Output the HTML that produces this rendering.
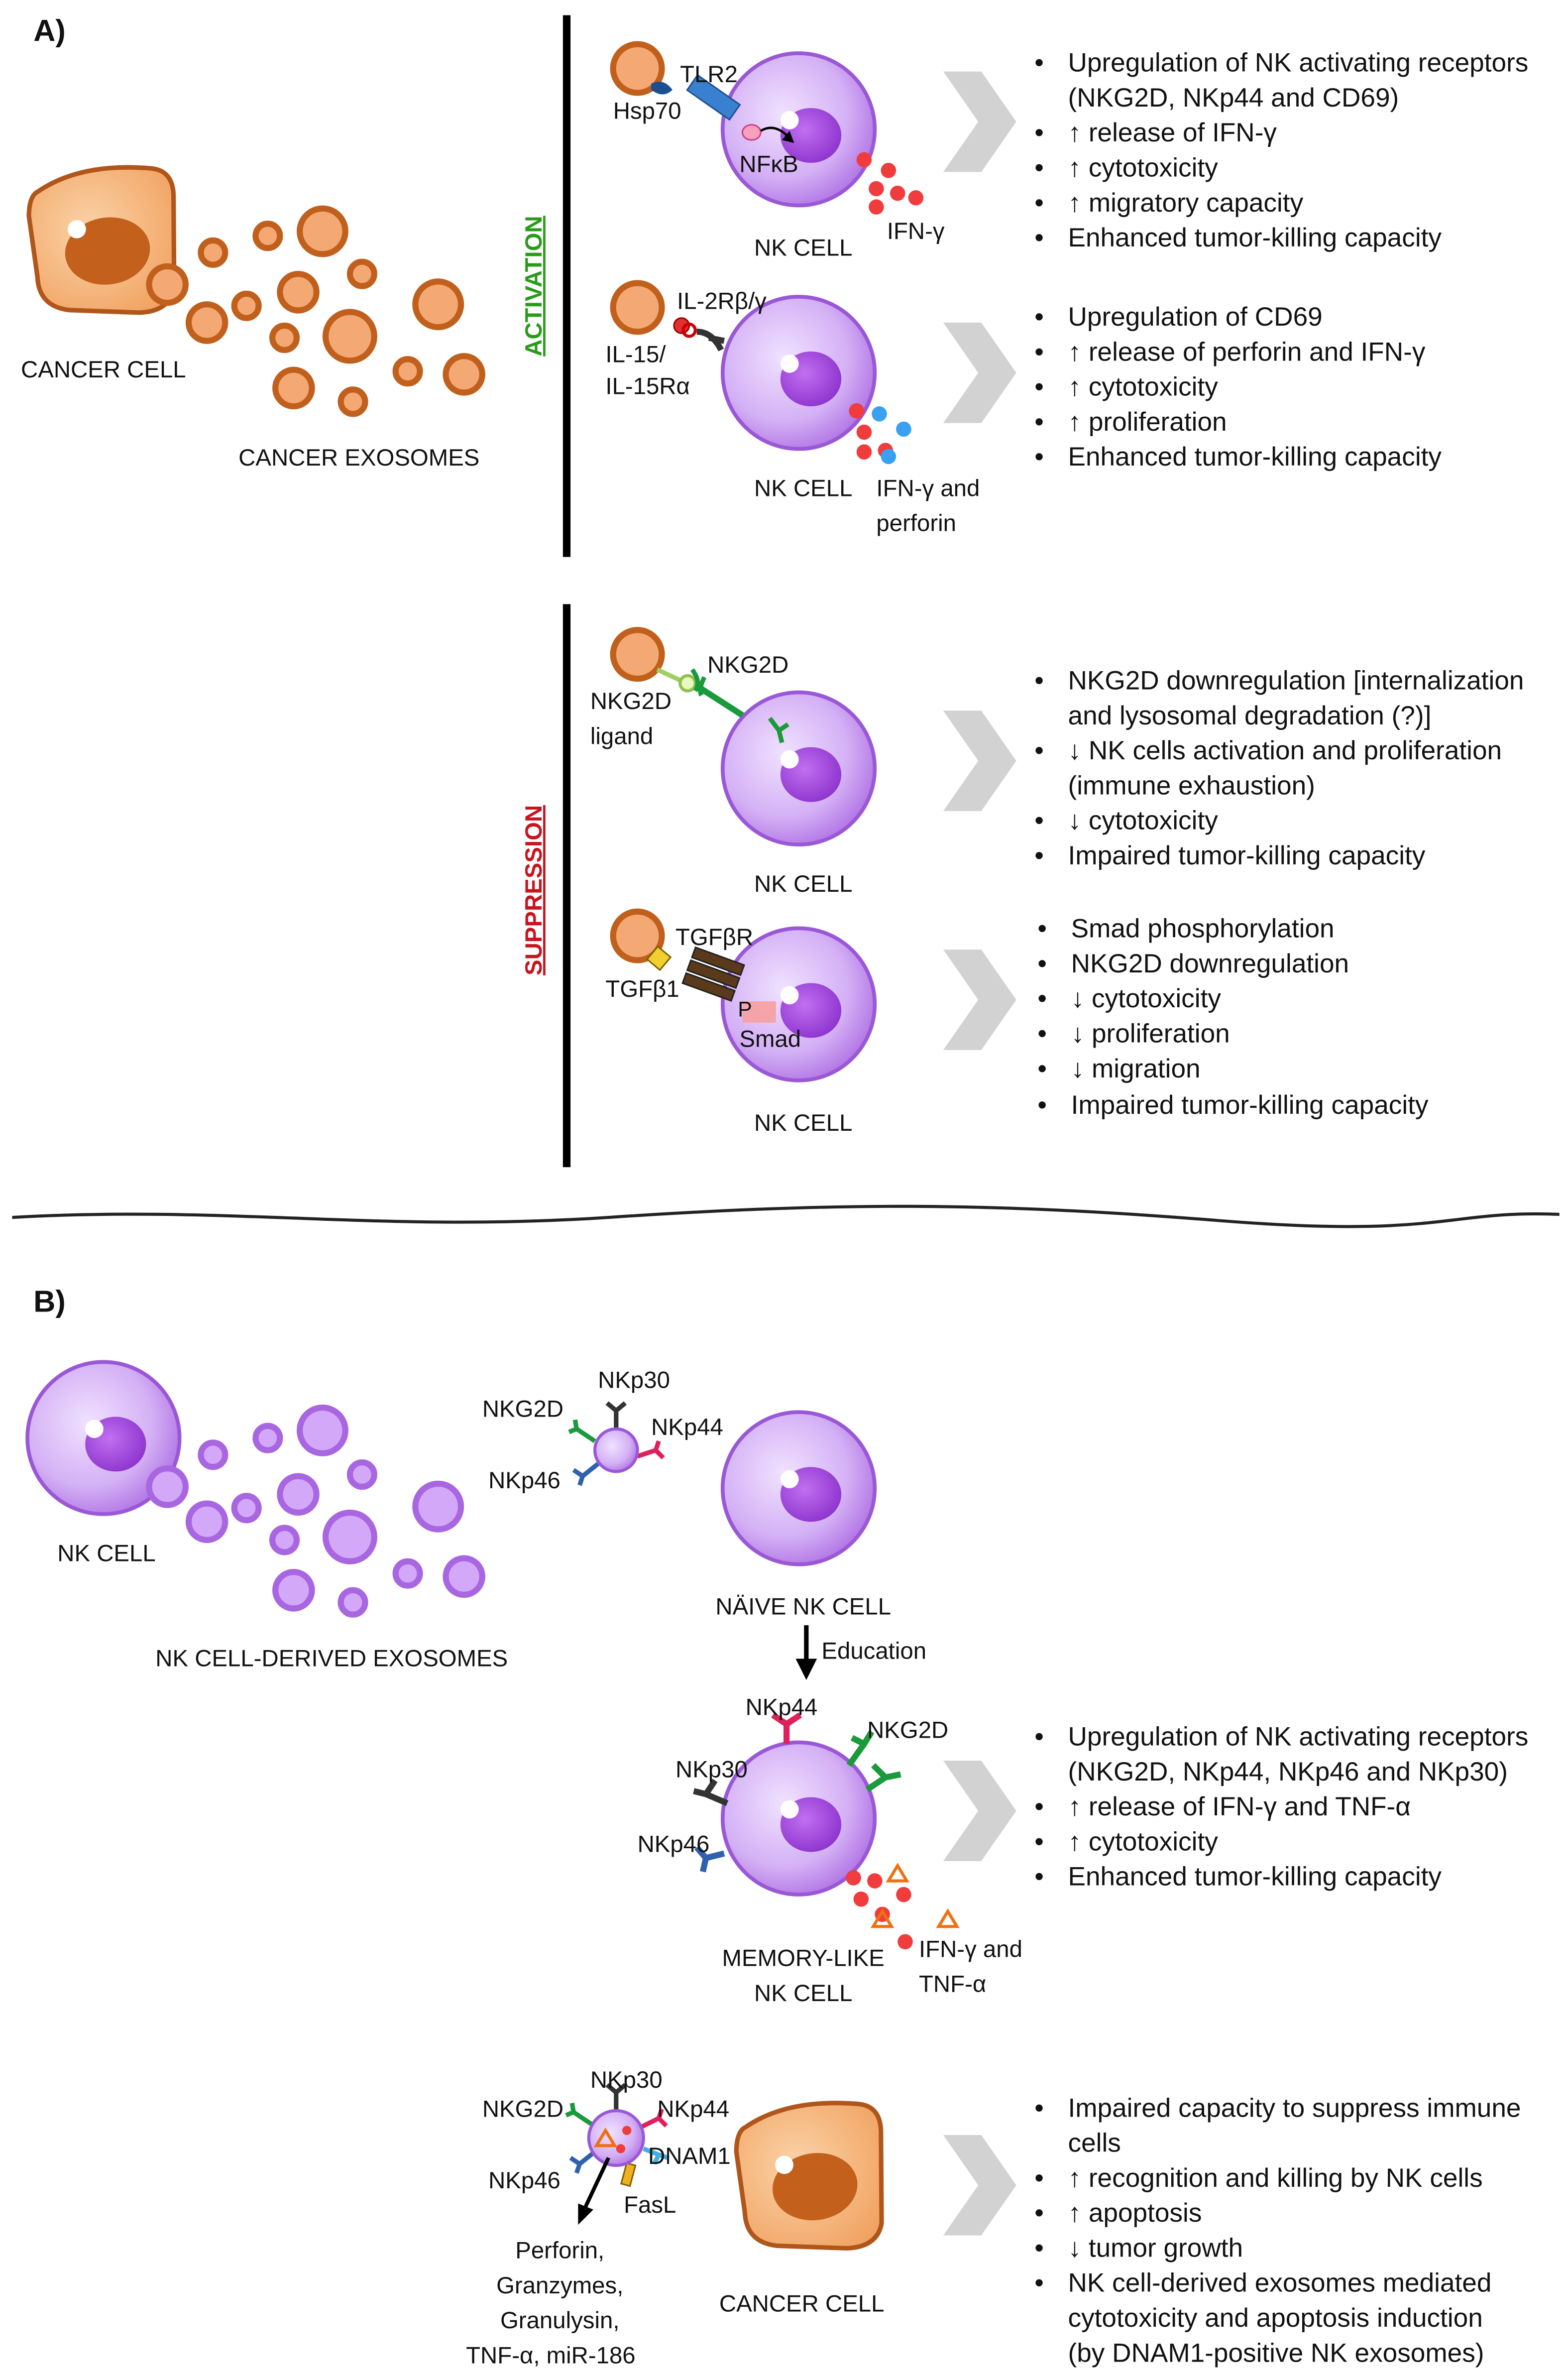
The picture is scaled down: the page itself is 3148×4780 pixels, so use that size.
<!DOCTYPE html>
<html><head><meta charset="utf-8"><style>
html,body{margin:0;padding:0;background:#fff}
svg{display:block}
text{font-family:"Liberation Sans",Calibri,sans-serif;font-size:15.5px;fill:#111}
.b text{font-size:17.4px}
</style></head><body>
<svg width="3148" height="4780" viewBox="0 0 1030 1564" xmlns="http://www.w3.org/2000/svg">
<defs>
<radialGradient id="nk" cx="0.4" cy="0.4" r="0.7"><stop offset="0" stop-color="#f0e2ff"/><stop offset="0.6" stop-color="#d4b0f5"/><stop offset="1" stop-color="#a866e0"/></radialGradient>
<radialGradient id="nuc" cx="0.4" cy="0.4" r="0.7"><stop offset="0" stop-color="#c070f0"/><stop offset="1" stop-color="#8a2fcc"/></radialGradient>
<radialGradient id="cc" cx="0.4" cy="0.4" r="0.8"><stop offset="0" stop-color="#fbd3a8"/><stop offset="1" stop-color="#ef9a55"/></radialGradient>
<g id="nkcell"><circle r="50" fill="url(#nk)" stroke="#9a58d6" stroke-width="2.5"/><ellipse cx="8" cy="4" rx="20" ry="18" fill="url(#nuc)"/><circle cx="-6" cy="-6" r="6" fill="#fff"/></g>
<g id="cancer"><path d="M-40,-40 Q-10,-55 35,-45 Q50,-42 48,-25 L40,35 Q35,50 15,48 L-30,40 Q-50,35 -48,15 L-48,-25 Q-46,-38 -40,-40Z" fill="url(#cc)" stroke="#b0561a" stroke-width="3"/><ellipse cx="0" cy="5" rx="28" ry="22" fill="#c2601c"/><circle cx="-18" cy="-12" r="6" fill="#fff"/></g>
<g id="chev"><polygon points="0,-33 25,-33 48,0 25,33 0,33 23,0" fill="#d2d2d2"/></g>
</defs>

<text x="22" y="27" style="font-weight:bold;font-size:20px">A)</text>
<use href="#cancer" x="70" y="160" transform="rotate(-8 70 160)"/>
<text x="68" y="248" text-anchor="middle">CANCER CELL</text>
<g fill="#f4a873" stroke="#c0601c" stroke-width="4">
<circle cx="110" cy="187" r="12"/><circle cx="140" cy="166" r="8"/><circle cx="176" cy="155" r="8"/><circle cx="212" cy="152" r="15"/><circle cx="238" cy="180" r="8"/><circle cx="196" cy="192" r="12"/><circle cx="162" cy="201" r="8"/><circle cx="136" cy="212" r="12"/><circle cx="187" cy="222" r="8"/><circle cx="230" cy="221" r="16"/><circle cx="288" cy="200" r="15"/><circle cx="268" cy="244" r="8"/><circle cx="305" cy="246" r="12"/><circle cx="193" cy="255" r="12"/><circle cx="232" cy="264" r="8"/>
</g>
<text x="236" y="306" text-anchor="middle">CANCER EXOSOMES</text>

<rect x="370" y="10" width="5" height="356" fill="#000"/>
<rect x="370" y="397" width="5" height="370" fill="#000"/>
<text transform="translate(356,188) rotate(-90)" text-anchor="middle" style="fill:#2a9a1a;font-weight:bold;text-decoration:underline">ACTIVATION</text>
<text transform="translate(356,585) rotate(-90)" text-anchor="middle" style="fill:#c8141e;font-weight:bold;text-decoration:underline">SUPPRESSION</text>

<!-- A1 -->
<use href="#nkcell" x="525" y="85"/>
<circle cx="419" cy="45" r="16" fill="#f4a873" stroke="#c0601c" stroke-width="4"/>
<rect x="452" y="58" width="34" height="12" fill="#3a80d0" stroke="#205090" transform="rotate(35 469 64)"/>
<path d="M428,55 q8,-4 14,4 q-6,6 -14,0z" fill="#1a4f90"/>
<text x="447" y="54">TLR2</text><text x="403" y="78">Hsp70</text>
<ellipse cx="494" cy="87" rx="6" ry="5" fill="#f7a0c0" stroke="#d04080"/>
<path d="M500,86 q10,-6 20,6" fill="none" stroke="#000" stroke-width="1.5"/><polygon points="522,94 514,92 519,86" fill="#000"/>
<text x="486" y="113">NFκB</text>
<g fill="#f03c3c"><circle cx="568" cy="105" r="5"/><circle cx="584" cy="112" r="5"/><circle cx="576" cy="124" r="5"/><circle cx="590" cy="127" r="5"/><circle cx="602" cy="130" r="5"/><circle cx="576" cy="136" r="5"/></g>
<text x="583" y="157">IFN-γ</text><text x="528" y="168" text-anchor="middle">NK CELL</text>
<use href="#chev" x="620" y="80"/>
<g class="b"><text x="680" y="47">•</text><text x="702" y="47">Upregulation of NK activating receptors</text><text x="702" y="70">(NKG2D, NKp44 and CD69)</text>
<text x="680" y="93">•</text><text x="702" y="93">↑ release of IFN-γ</text>
<text x="680" y="116">•</text><text x="702" y="116">↑ cytotoxicity</text>
<text x="680" y="139">•</text><text x="702" y="139">↑ migratory capacity</text>
<text x="680" y="162">•</text><text x="702" y="162">Enhanced tumor-killing capacity</text></g>

<!-- A2 -->
<use href="#nkcell" x="525" y="245"/>
<circle cx="419" cy="202" r="16" fill="#f4a873" stroke="#c0601c" stroke-width="4"/>
<circle cx="448" cy="214" r="5" fill="#e03030" stroke="#900"/><circle cx="453" cy="217" r="4" fill="none" stroke="#c00" stroke-width="2"/>
<path d="M458,218 q10,0 16,12 M466,222 l10,2" fill="none" stroke="#333" stroke-width="4"/>
<text x="445" y="203">IL-2Rβ/γ</text><text x="398" y="238">IL-15/</text><text x="398" y="259">IL-15Rα</text>
<g fill="#f03c3c"><circle cx="563" cy="270" r="5"/><circle cx="568" cy="284" r="5"/><circle cx="582" cy="296" r="5"/><circle cx="568" cy="297" r="5"/></g>
<g fill="#3aa0f0"><circle cx="578" cy="272" r="5"/><circle cx="594" cy="282" r="5"/><circle cx="584" cy="300" r="5"/></g>
<text x="528" y="326" text-anchor="middle">NK CELL</text><text x="576" y="326">IFN-γ and</text><text x="576" y="349">perforin</text>
<use href="#chev" x="620" y="245"/>
<g class="b"><text x="680" y="214">•</text><text x="702" y="214">Upregulation of CD69</text>
<text x="680" y="237">•</text><text x="702" y="237">↑ release of perforin and IFN-γ</text>
<text x="680" y="260">•</text><text x="702" y="260">↑ cytotoxicity</text>
<text x="680" y="283">•</text><text x="702" y="283">↑ proliferation</text>
<text x="680" y="306">•</text><text x="702" y="306">Enhanced tumor-killing capacity</text></g>

<!-- A3 -->
<use href="#nkcell" x="525" y="505"/>
<circle cx="419" cy="430" r="16" fill="#f4a873" stroke="#c0601c" stroke-width="4"/>
<line x1="432" y1="440" x2="447" y2="447" stroke="#a0d060" stroke-width="3"/><circle cx="452" cy="449" r="5" fill="#e8f8c0" stroke="#90c050" stroke-width="2"/>
<path d="M455,440 q6,8 2,14 M463,445 q-4,8 -2,12" fill="none" stroke="#1a9a3a" stroke-width="3"/>
<line x1="460" y1="452" x2="488" y2="470" stroke="#1a9a3a" stroke-width="4"/>
<path d="M506,472 l6,8 l6,-4 M512,480 l2,8" fill="none" stroke="#1a9a3a" stroke-width="3"/>
<text x="465" y="442">NKG2D</text><text x="388" y="466">NKG2D</text><text x="388" y="489">ligand</text>
<text x="528" y="586" text-anchor="middle">NK CELL</text>
<use href="#chev" x="620" y="500"/>
<g class="b"><text x="680" y="453">•</text><text x="702" y="453">NKG2D downregulation [internalization</text><text x="702" y="476">and lysosomal degradation (?)]</text>
<text x="680" y="499">•</text><text x="702" y="499">↓ NK cells activation and proliferation</text><text x="702" y="522">(immune exhaustion)</text>
<text x="680" y="545">•</text><text x="702" y="545">↓ cytotoxicity</text>
<text x="680" y="568">•</text><text x="702" y="568">Impaired tumor-killing capacity</text></g>

<!-- A4 -->
<use href="#nkcell" x="525" y="660"/>
<circle cx="419" cy="615" r="16" fill="#f4a873" stroke="#c0601c" stroke-width="4"/>
<rect x="428" y="624" width="11" height="11" fill="#f0d030" stroke="#806000" transform="rotate(40 433 629)"/>
<g transform="rotate(20 470 640)"><rect x="452" y="628" width="34" height="7" fill="#5a3a1a" stroke="#222"/><rect x="452" y="637" width="34" height="7" fill="#5a3a1a" stroke="#222"/><rect x="452" y="646" width="34" height="7" fill="#5a3a1a" stroke="#222"/></g>
<rect x="488" y="658" width="22" height="14" fill="#f6a0a0" opacity="0.9"/>
<text x="485" y="668" style="font-size:14px">P</text>
<text x="444" y="621">TGFβR</text><text x="398" y="655">TGFβ1</text><text x="486" y="688">Smad</text>
<text x="528" y="743" text-anchor="middle">NK CELL</text>
<use href="#chev" x="620" y="657"/>
<g class="b"><text x="682" y="616">•</text><text x="704" y="616">Smad phosphorylation</text>
<text x="682" y="639">•</text><text x="704" y="639">NKG2D downregulation</text>
<text x="682" y="662">•</text><text x="704" y="662">↓ cytotoxicity</text>
<text x="682" y="685">•</text><text x="704" y="685">↓ proliferation</text>
<text x="682" y="708">•</text><text x="704" y="708">↓ migration</text>
<text x="682" y="732">•</text><text x="704" y="732">Impaired tumor-killing capacity</text></g>

<path d="M8,800 C150,792 250,810 400,800 S650,790 800,802 S950,795 1025,798" fill="none" stroke="#222" stroke-width="2"/>

<text x="22" y="862" style="font-weight:bold;font-size:20px">B)</text>
<use href="#nkcell" x="68" y="945"/>
<text x="70" y="1026" text-anchor="middle">NK CELL</text>
<g fill="#d4a8f8" stroke="#a866e0" stroke-width="4">
<circle cx="110" cy="977" r="12"/><circle cx="140" cy="956" r="8"/><circle cx="176" cy="945" r="8"/><circle cx="212" cy="940" r="15"/><circle cx="238" cy="969" r="8"/><circle cx="196" cy="982" r="12"/><circle cx="162" cy="991" r="8"/><circle cx="136" cy="1000" r="12"/><circle cx="187" cy="1012" r="8"/><circle cx="230" cy="1010" r="16"/><circle cx="288" cy="990" r="15"/><circle cx="268" cy="1034" r="8"/><circle cx="305" cy="1036" r="12"/><circle cx="193" cy="1045" r="12"/><circle cx="232" cy="1053" r="8"/>
</g>
<text x="218" y="1095" text-anchor="middle">NK CELL-DERIVED EXOSOMES</text>

<g stroke-width="3" fill="none">
<path d="M405,939 v-12 M399,922 l6,5 l6,-5" stroke="#333"/>
<path d="M391,947 l-12,-8 M374,941 l5,-2 l-1,-6" stroke="#1a9a3a"/>
<path d="M419,957 l12,-4 M433,947 l-2,6 l5,5" stroke="#e0205a"/>
<path d="M393,962 l-10,8 M377,966 l6,4 l-2,6" stroke="#3060b0"/>
</g>
<circle cx="405" cy="953" r="14" fill="url(#nk)" stroke="#9a58d6" stroke-width="2"/>
<text x="393" y="912">NKp30</text><text x="317" y="931">NKG2D</text><text x="428" y="943">NKp44</text><text x="321" y="978">NKp46</text>

<use href="#nkcell" x="525" y="978"/>
<text x="528" y="1061" text-anchor="middle">NÄIVE NK CELL</text>
<line x1="530" y1="1068" x2="530" y2="1092" stroke="#000" stroke-width="3"/><polygon points="523,1090 537,1090 530,1104" fill="#000"/>
<text x="540" y="1090">Education</text>

<!-- memory -->
<use href="#nkcell" x="525" y="1195"/>
<g stroke-width="4" fill="none">
<path d="M517,1146 v-13 M508,1127 l9,6 l9,-6" stroke="#e0205a"/>
<path d="M558,1160 l10,-14 M560,1142 l8,4 l5,-8" stroke="#1a9a3a"/>
<path d="M570,1176 l12,-8 M574,1160 l8,8 l10,-2" stroke="#1a9a3a"/>
<path d="M478,1185 l-14,-6 M470,1170 l-6,9 l-8,-2" stroke="#333"/>
<path d="M476,1218 l-12,3 M458,1214 l6,7 l-2,9" stroke="#3060b0"/>
</g>
<g fill="#f03c3c"><circle cx="561" cy="1234" r="5"/><circle cx="575" cy="1236" r="5"/><circle cx="566" cy="1248" r="5"/><circle cx="580" cy="1258" r="5"/><circle cx="594" cy="1245" r="5"/><circle cx="595" cy="1276" r="5"/></g>
<g fill="none" stroke="#f07010" stroke-width="2"><polygon points="590,1226 596,1236 584,1236"/><polygon points="580,1256 586,1266 574,1266"/><polygon points="623,1256 629,1266 617,1266"/></g>
<text x="490" y="1127">NKp44</text><text x="570" y="1142">NKG2D</text><text x="444" y="1168">NKp30</text><text x="419" y="1217">NKp46</text>
<text x="528" y="1292" text-anchor="middle">MEMORY-LIKE</text><text x="528" y="1315" text-anchor="middle">NK CELL</text>
<text x="604" y="1286">IFN-γ and</text><text x="604" y="1309">TNF-α</text>
<use href="#chev" x="620" y="1190"/>
<g class="b"><text x="680" y="1147">•</text><text x="702" y="1147">Upregulation of NK activating receptors</text><text x="702" y="1170">(NKG2D, NKp44, NKp46 and NKp30)</text>
<text x="680" y="1193">•</text><text x="702" y="1193">↑ release of IFN-γ and TNF-α</text>
<text x="680" y="1216">•</text><text x="702" y="1216">↑ cytotoxicity</text>
<text x="680" y="1239">•</text><text x="702" y="1239">Enhanced tumor-killing capacity</text></g>

<g stroke-width="3" fill="none">
<path d="M405,1387 v-12 M399,1370 l6,5 l6,-5" stroke="#333"/>
<path d="M389,1396 l-12,-8 M372,1390 l5,-2 l-1,-6" stroke="#1a9a3a"/>
<path d="M421,1398 l12,-6 M435,1386 l-2,6 l5,5" stroke="#e0205a"/>
<path d="M391,1414 l-10,8 M375,1418 l6,4 l-2,6" stroke="#3060b0"/>
<path d="M423,1412 l10,4 M430,1422 l3,-6 l6,2" stroke="#40b0e0"/>
</g>
<rect x="410" y="1422" width="6" height="14" fill="#f0b020" stroke="#806000" transform="rotate(15 413 1429)"/>
<circle cx="405" cy="1405" r="18" fill="url(#nk)" stroke="#9a58d6" stroke-width="2"/>
<polygon points="398,1400 404,1410 392,1410" fill="none" stroke="#f07010" stroke-width="2"/><circle cx="412" cy="1400" r="3" fill="#f03c3c"/><circle cx="408" cy="1412" r="3" fill="#f03c3c"/>
<line x1="400" y1="1418" x2="384" y2="1452" stroke="#000" stroke-width="2.5"/><polygon points="380,1462 380,1448 390,1452" fill="#000"/>
<text x="388" y="1372">NKp30</text><text x="317" y="1391">NKG2D</text><text x="432" y="1391">NKp44</text><text x="426" y="1422">DNAM1</text><text x="321" y="1438">NKp46</text><text x="410" y="1454">FasL</text>
<text x="368" y="1484" text-anchor="middle">Perforin,</text><text x="368" y="1507" text-anchor="middle">Granzymes,</text><text x="368" y="1530" text-anchor="middle">Granulysin,</text><text x="362" y="1553" text-anchor="middle">TNF-α, miR-186</text>
<use href="#cancer" x="535" y="1432" transform="rotate(-8 535 1432)"/>
<text x="527" y="1519" text-anchor="middle">CANCER CELL</text>
<use href="#chev" x="620" y="1436"/>
<g class="b"><text x="680" y="1391">•</text><text x="702" y="1391">Impaired capacity to suppress immune</text><text x="702" y="1414">cells</text>
<text x="680" y="1437">•</text><text x="702" y="1437">↑ recognition and killing by NK cells</text>
<text x="680" y="1460">•</text><text x="702" y="1460">↑ apoptosis</text>
<text x="680" y="1483">•</text><text x="702" y="1483">↓ tumor growth</text>
<text x="680" y="1506">•</text><text x="702" y="1506">NK cell-derived exosomes mediated</text><text x="702" y="1529">cytotoxicity and apoptosis induction</text><text x="702" y="1552">(by DNAM1-positive NK exosomes)</text></g>
</svg>
</body></html>
